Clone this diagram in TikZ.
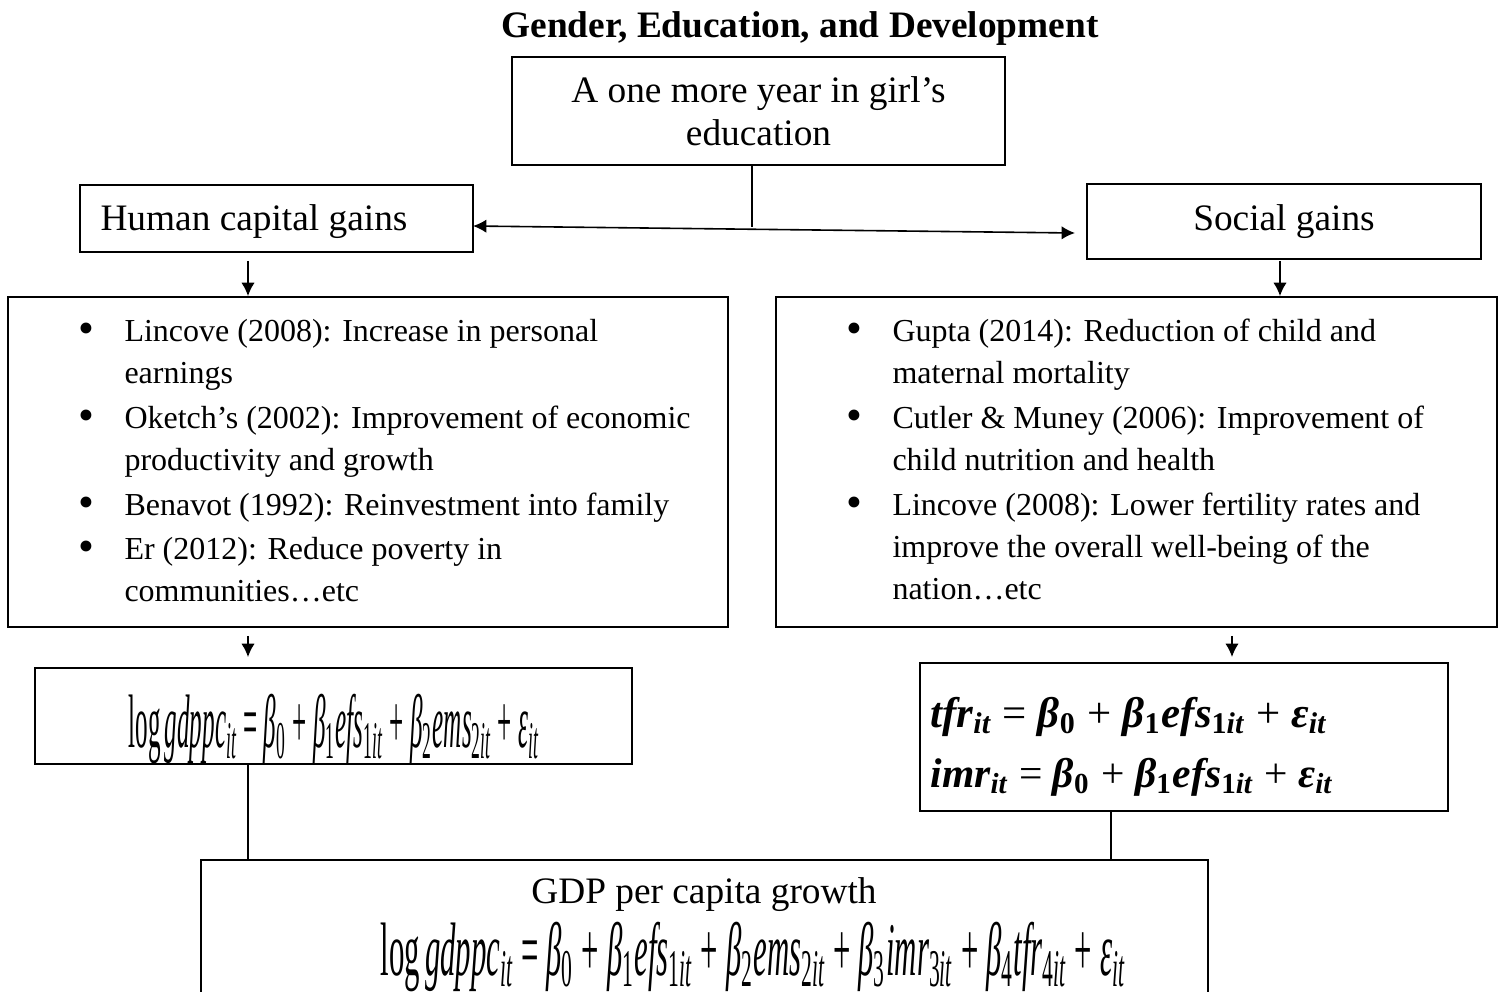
\documentclass[tikz,border=0pt]{standalone}
\usepackage{fontspec}
\setmainfont{Liberation Serif}
\usepackage{graphicx}
\usetikzlibrary{arrows.meta}
\newcommand{\sbx}[1]{\textsubscript{#1}}
\newcommand{\op}[1]{\ \textup{\mdseries #1}\ }
\begin{document}
\begin{tikzpicture}[x=0.375pt,y=-0.375pt,
  box/.style={draw,line width=0.7pt,inner sep=0pt},
  body/.style={font=\fontsize{12}{14}\selectfont,inner sep=0pt,anchor=base west},
  bul/.style={font=\fontsize{17}{17}\selectfont,inner sep=0pt,anchor=base},
  head/.style={font=\fontsize{14}{16}\selectfont,inner sep=0pt,anchor=base},
  arr/.style={line width=0.6pt,-{Latex[length=5pt,width=5pt]}},
  conn/.style={line width=0.6pt}]
\clip (0,0) rectangle (1502,991);
\fill[white] (0,0) rectangle (1502,991);
% title
\node[head,font=\fontsize{14}{16}\selectfont\bfseries] (title) at (800,37) {Gender, Education, and Development};
% boxes
\node[box,minimum width=184.9pt,minimum height=40.5pt] (top) at (758.5,111) {};
\node[head] (t1) at (758.5,102) {A one more year in girl’s};
\node[head] (t2) at (758.5,145) {education};
\node[box,minimum width=147.4pt,minimum height=25.1pt] (hc) at (276.5,218.5) {};
\node[head,anchor=base west] (hct) at (100,230) {Human capital gains};
\node[box,minimum width=147.75pt,minimum height=28.1pt] (soc) at (1284,221.5) {};
\node[head] (soct) at (1284,230) {Social gains};
\node[box,minimum width=270pt,minimum height=123.75pt] (lbig) at (368,462) {};
\node[box,minimum width=270.4pt,minimum height=123.75pt] (rbig) at (1136.5,462) {};
\node[box,minimum width=223.9pt,minimum height=36pt] (leq) at (333.5,716) {};
\node[box,minimum width=198pt,minimum height=55.5pt] (req) at (1184,737) {};
\node[box,minimum width=377.6pt,minimum height=52.5pt] (bot) at (704.5,930) {};
% left list
\node[bul] (lb1) at (86,343) {•};
\node[body] (l1a) at (124,341) {Lincove (2008): Increase in personal};
\node[body] (l1b) at (124,383) {earnings};
\node[bul] (lb2) at (86,430) {•};
\node[body] (l2a) at (124,428) {Oketch’s (2002): Improvement of economic};
\node[body] (l2b) at (124,470) {productivity and growth};
\node[bul] (lb3) at (86,517) {•};
\node[body] (l3a) at (124,515) {Benavot (1992): Reinvestment into family};
\node[bul] (lb4) at (86,561) {•};
\node[body] (l4a) at (124,559) {Er (2012): Reduce poverty in};
\node[body] (l4b) at (124,601) {communities…etc};
% right list
\node[bul] (rb1) at (854,343) {•};
\node[body] (r1a) at (892,341) {Gupta (2014): Reduction of child and};
\node[body] (r1b) at (892,383) {maternal mortality};
\node[bul] (rb2) at (854,430) {•};
\node[body] (r2a) at (892,428) {Cutler \& Muney (2006): Improvement of};
\node[body] (r2b) at (892,470) {child nutrition and health};
\node[bul] (rb3) at (854,517) {•};
\node[body] (r3a) at (892,515) {Lincove (2008): Lower fertility rates and};
\node[body] (r3b) at (892,557) {improve the overall well-being of the};
\node[body] (r3c) at (892,599) {nation…etc};
% equations
\node[inner sep=0pt,anchor=base west] (eqL) at (128,747) {\resizebox{154pt}{20pt}{\itshape\textup{log}\,gdppc\sbx{it} \textup{=} β\sbx{\textup{0}} \textup{+} β\sbx{\textup{1}}efs\sbx{\textup{1}it} \textup{+} β\sbx{\textup{2}}ems\sbx{\textup{2}it} \textup{+} ε\sbx{it}}};
\node[inner sep=0pt,anchor=base west] (eqR1) at (930,727) {\resizebox{148.9pt}{!}{\bfseries\itshape tfr\sbx{it}\op{=}β\sbx{\textup{0}}\op{+}β\sbx{\textup{1}}efs\sbx{\textup{1}it}\op{+}ε\sbx{it}}};
\node[inner sep=0pt,anchor=base west] (eqR2) at (930,787) {\resizebox{151.1pt}{!}{\bfseries\itshape imr\sbx{it}\op{=}β\sbx{\textup{0}}\op{+}β\sbx{\textup{1}}efs\sbx{\textup{1}it}\op{+}ε\sbx{it}}};
\node[head] (gdp) at (704,903) {GDP per capita growth};
\node[inner sep=0pt,anchor=base west] (eqB) at (380,975) {\resizebox{279.4pt}{20pt}{\itshape\textup{log}\,gdppc\sbx{it} \textup{=} β\sbx{\textup{0}} \textup{+} β\sbx{\textup{1}}efs\sbx{\textup{1}it} \textup{+} β\sbx{\textup{2}}ems\sbx{\textup{2}it} \textup{+} β\sbx{\textup{3}}imr\sbx{\textup{3}it} \textup{+} β\sbx{\textup{4}}tfr\sbx{\textup{4}it} \textup{+} ε\sbx{it}}};
% connectors
\coordinate (mid) at (752,227);
\coordinate (al) at (473,226);
\coordinate (ar) at (1075,233);
\coordinate (cL) at (248,0);
\coordinate (cR) at (1280,0);
\coordinate (cR2) at (1232,0);
\coordinate (cM) at (1111,0);
\draw[conn] (top.south -| mid) -- (mid);
\draw[line width=0.6pt,{Latex[length=5pt,width=5pt]}-{Latex[length=5pt,width=5pt]}] (al) -- (ar);
\draw[arr,shorten <=3pt] (hc.south -| cL) -- (lbig.north -| cL);
\draw[arr,shorten <=0.5pt] (soc.south -| cR) -- (rbig.north -| cR);
\draw[arr,shorten <=3pt,shorten >=3.75pt] (lbig.south -| cL) -- (leq.north -| cL);
\draw[arr,shorten <=3pt,shorten >=1.9pt] (rbig.south -| cR2) -- (req.north -| cR2);
\draw[conn] (leq.south -| cL) -- (bot.north -| cL);
\draw[conn] (req.south -| cM) -- (bot.north -| cM);
\end{tikzpicture}
\end{document}
